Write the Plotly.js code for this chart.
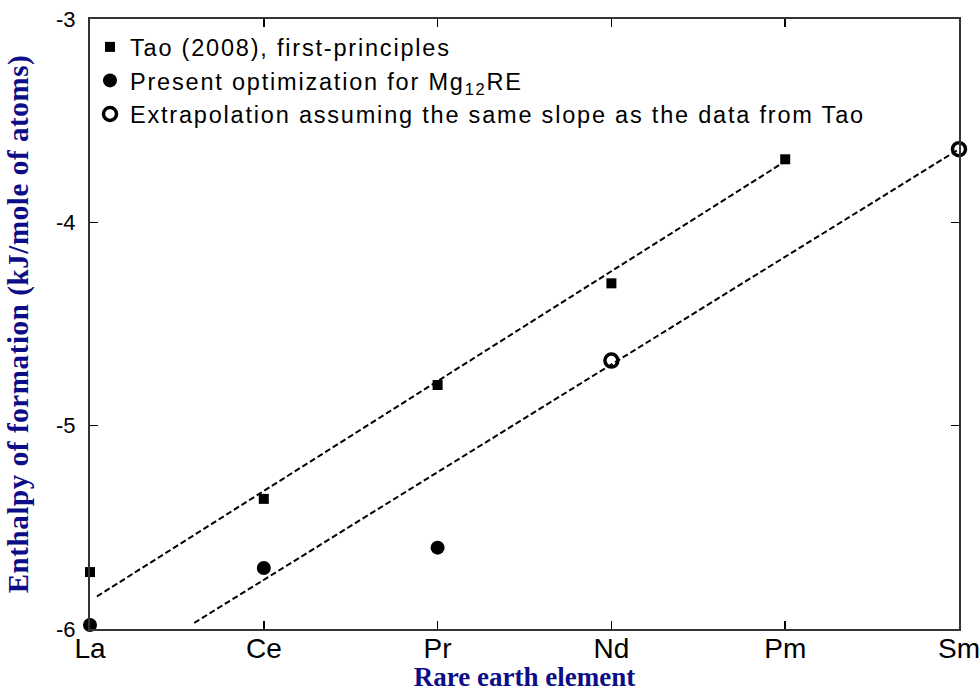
<!DOCTYPE html>
<html>
<head>
<meta charset="utf-8">
<script src="https://cdn.plot.ly/plotly-3.0.1.min.js"></script>
<style>
html,body{margin:0;padding:0;background:#fff;}
#chart{width:980px;height:692px;}
#chart .legendtext{letter-spacing:1.8px;}
#chart .legend .scrollbox{clip-path:none !important;}
#chart .ytitle{letter-spacing:0.6px;}
</style>
</head>
<body>
<div id="chart"></div>
<script>
// Categories
const elements = ['La', 'Ce', 'Pr', 'Nd', 'Pm', 'Sm'];

// Tao (2008), first-principles
const taoElements = ['La', 'Ce', 'Pr', 'Nd', 'Pm'];
const taoValues = [-5.72, -5.36, -4.80, -4.30, -3.69];

// Present optimization for Mg12RE
const presentElements = ['La', 'Ce', 'Pr'];
const presentValues = [-5.98, -5.70, -5.60];

// Extrapolation assuming the same slope
const extrapElements = ['Nd', 'Sm'];
const extrapValues = [-4.68, -3.64];

// Dashed lines (positions in element-index units)
const taoFitX = [0.04, 4.0];
const taoFitY = [-5.84, -3.70];
const extrapFitX = [0.6, 5.0];
const extrapFitY = [-5.97, -3.64];

// Y axis ticks
const yTickVals = [-3, -4, -5, -6];
const yTickText = ['-3', '-4', '-5', '-6'];

const idx = arr => arr.map(e => elements.indexOf(e));

const traces = [
  {x: taoFitX, y: taoFitY, mode: 'lines', line: {color: '#000', width: 2, dash: '6px,3px'}, showlegend: false, hoverinfo: 'skip'},
  {x: extrapFitX, y: extrapFitY, mode: 'lines', line: {color: '#000', width: 2, dash: '6px,3px'}, showlegend: false, hoverinfo: 'skip'},
  {x: idx(taoElements), y: taoValues, mode: 'markers', name: 'Tao (2008), first-principles',
   marker: {symbol: 'square', size: 10, color: '#000'}, cliponaxis: false},
  {x: idx(presentElements), y: presentValues, mode: 'markers', name: 'Present optimization for Mg<sub>12</sub>RE',
   marker: {symbol: 'circle', size: 14, color: '#000'}, cliponaxis: false},
  {x: idx(extrapElements), y: extrapValues, mode: 'markers', name: 'Extrapolation assuming the same slope as the data from Tao',
   marker: {symbol: 'circle-open', size: 13, color: '#000', line: {width: 3.5, color: '#000'}}, cliponaxis: false}
];

const serif = '"Liberation Serif", "Times New Roman", serif';

const layout = {
  width: 980, height: 692,
  margin: {l: 90, r: 21, t: 19, b: 63},
  paper_bgcolor: '#fff', plot_bgcolor: '#fff',
  font: {family: 'Arial, "Liberation Sans", sans-serif', color: '#000'},
  showlegend: true,
  legend: {x: 0.0, y: 0.99, xanchor: 'left', yanchor: 'top', bgcolor: 'rgba(0,0,0,0)',
           font: {size: 23.5, family: 'Arial, "Liberation Sans", sans-serif', color: '#000'},
           itemwidth: 30, tracegroupgap: 0},
  xaxis: {
    range: [0, 5], tickvals: elements.map((e, i) => i), ticktext: elements,
    ticks: 'inside', ticklen: 8, tickwidth: 1.5, tickcolor: '#000',
    showline: true, linecolor: '#333', linewidth: 2, mirror: 'ticks',
    showgrid: false, zeroline: false,
    tickfont: {size: 28},
    ticklabelstandoff: -7,
    title: {text: '<b>Rare earth element</b>', font: {family: serif, size: 27, color: '#0d0d87'}, standoff: 0},
    automargin: false
  },
  yaxis: {
    range: [-6, -3], tickvals: yTickVals, ticktext: yTickText,
    ticks: 'inside', ticklen: 8, tickwidth: 1.5, tickcolor: '#000',
    showline: true, linecolor: '#333', linewidth: 2, mirror: 'ticks',
    showgrid: false, zeroline: false,
    tickfont: {size: 22},
    ticklabelstandoff: 8,
    title: {text: '<b>Enthalpy of formation (kJ/mole of atoms)</b>', font: {family: serif, size: 29, color: '#0d0d87'}, standoff: 19},
    automargin: false
  }
};

Plotly.newPlot('chart', traces, layout, {staticPlot: true, displayModeBar: false});
</script>
</body>
</html>
